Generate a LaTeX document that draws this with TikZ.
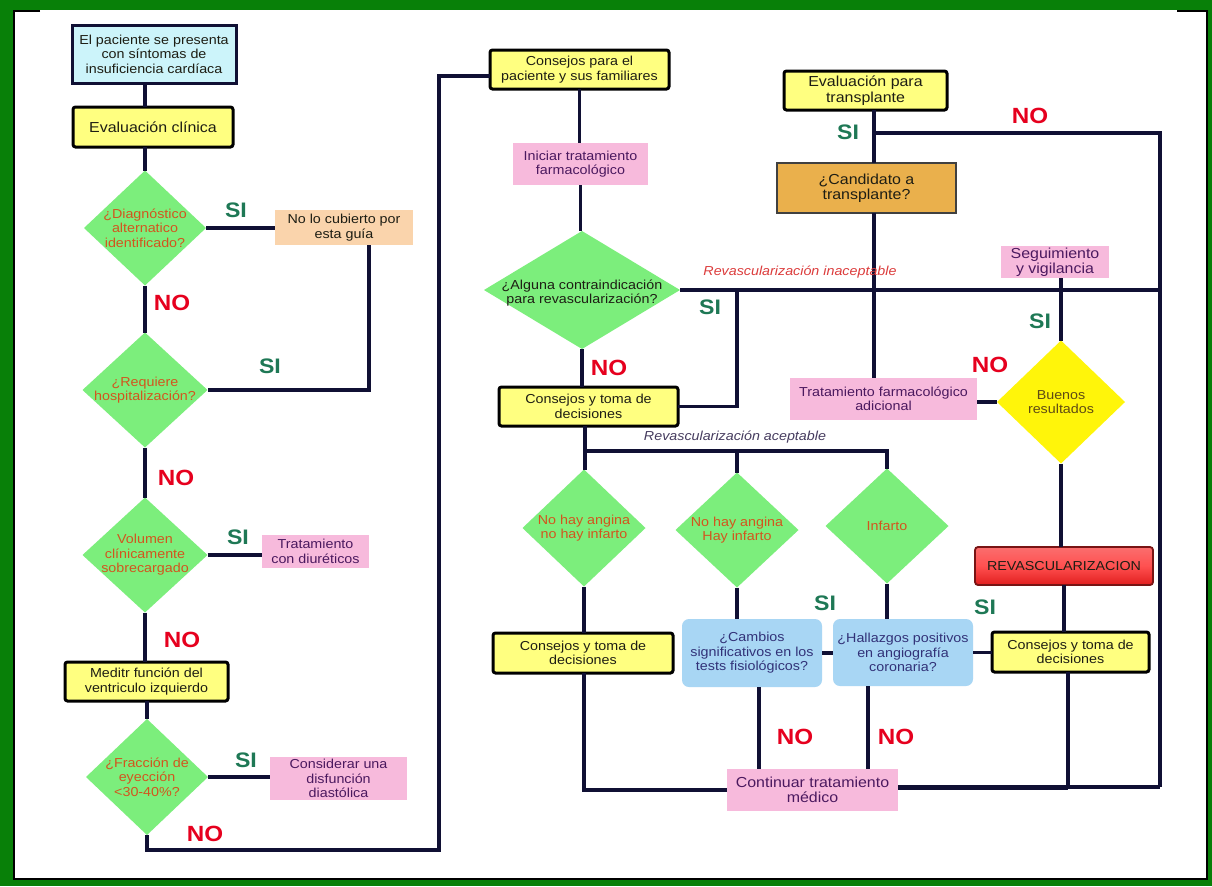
\documentclass[tikz,border=0pt]{standalone}
\usepackage{fontspec}
\setmainfont{Liberation Sans}[FakeStretch=1.1]
\usetikzlibrary{shapes.geometric}

\definecolor{framegreen}{RGB}{8,128,8}
\definecolor{wirec}{RGB}{16,16,52}
\definecolor{yfill}{RGB}{255,255,128}
\definecolor{cyanfill}{RGB}{204,244,250}
\definecolor{pinkfill}{RGB}{247,186,220}
\definecolor{peachfill}{RGB}{250,212,172}
\definecolor{orangefill}{RGB}{234,176,76}
\definecolor{greenfill}{RGB}{124,238,124}
\definecolor{ydiamfill}{RGB}{255,245,10}
\definecolor{bluefill}{RGB}{168,214,244}
\definecolor{rvtop}{RGB}{250,110,110}
\definecolor{rvmid}{RGB}{255,80,80}
\definecolor{rvbot}{RGB}{225,30,30}
\definecolor{rvedge}{RGB}{120,20,20}
\definecolor{darktext}{RGB}{30,30,20}
\definecolor{purpletext}{RGB}{75,25,95}
\definecolor{diamtext}{RGB}{210,85,30}
\definecolor{bluetext}{RGB}{50,50,120}
\definecolor{sigreen}{RGB}{30,120,85}
\definecolor{nored}{RGB}{230,0,30}
\definecolor{redlabel}{RGB}{220,60,60}
\definecolor{greylabel}{RGB}{70,60,95}

\begin{document}
\begin{tikzpicture}[x=1pt,y=-1pt,
  txt/.style={font=\fontsize{13}{14.5}\selectfont},
  bigtxt/.style={font=\fontsize{14.5}{15.5}\selectfont},
  base/.style={align=center, inner sep=0pt, outer sep=0pt},
  ybox/.style={base, txt, draw=black, line width=3pt, rounded corners=2.5pt, fill=yfill, text=darktext},
  cbox/.style={base, txt, draw=wirec, line width=3pt, fill=cyanfill, text=darktext},
  pbox/.style={base, txt, fill=pinkfill, text=purpletext},
  peachbox/.style={base, txt, fill=peachfill, text=darktext},
  obox/.style={base, bigtxt, draw=black!75, line width=1.8pt, fill=orangefill, text=darktext},
  bbox/.style={base, txt, fill=bluefill, rounded corners=7pt, text=bluetext},
  rbox/.style={base, txt, draw=rvedge, line width=1.8pt, rounded corners=3pt,
               top color=rvtop, bottom color=rvbot, middle color=rvmid, text=darktext},
  gdiam/.style={diamond, inner sep=0pt, outer sep=0pt, fill=greenfill},
  ydiam/.style={diamond, inner sep=0pt, outer sep=0pt, fill=ydiamfill},
  dtxt/.style={base, font=\fontsize{13}{14.5}\selectfont, text=diamtext},
  wire/.style={draw=wirec, line width=3.2pt},
  nolab/.style={font=\fontsize{22}{22}\bfseries, text=nored, inner sep=0pt},
  silab/.style={font=\fontsize{21}{21}\bfseries, text=sigreen, inner sep=0pt},
  pathlab/.style={font=\fontsize{13}{14}\itshape, inner sep=0pt}
]
\useasboundingbox (0,0) rectangle (1212,886);

% frame
\fill[framegreen] (0,0) rectangle (1212,886);
\fill[white] (14,10) rectangle (1207,879);
\draw[black, line width=1.2pt] (40,11) -- (14,11) -- (14,879) -- (1207,879) -- (1207,11) -- (1177,11);

% ---------- left column ----------
\node[cbox, minimum width=164, minimum height=58] (n1) at (154,54)
  {El paciente se presenta\\con síntomas de\\insuficiencia cardíaca};
\node[ybox, bigtxt, minimum width=160, minimum height=40] (n2) at (153,127) {Evaluación clínica};

\node[gdiam, minimum width=122, minimum height=115] (d1) at (145,228) {};
\node[dtxt] (d1t) at (d1) {¿Diagnóstico\\alternatico\\identificado?};
\node[peachbox, minimum width=138, minimum height=35] (nc) at (344,227.5) {No lo cubierto por\\esta guía};

\node[gdiam, minimum width=125, minimum height=115] (d2) at (145,390) {};
\node[dtxt] (d2t) at (d2) {¿Requiere\\hospitalización?};

\node[gdiam, minimum width=125, minimum height=115] (d3) at (145,555) {};
\node[dtxt] (d3t) at (d3) {Volumen\\clínicamente\\sobrecargado};
\node[pbox, minimum width=107, minimum height=33] (td) at (315.5,551.5) {Tratamiento\\con diuréticos};

\node[ybox, minimum width=163, minimum height=39] (n3) at (146.5,681.5) {Meditr función del\\ventriculo izquierdo};

\node[gdiam, minimum width=122, minimum height=116] (d4) at (147,777) {};
\node[dtxt] (d4t) at (d4) {¿Fracción de\\eyección\\<30-40\%?};
\node[pbox, minimum width=137, minimum height=43] (cd) at (338.5,778.5) {Considerar una\\disfunción\\diastólica};

% ---------- middle column ----------
\node[ybox, minimum width=179, minimum height=39] (cp) at (579.5,69.5) {Consejos para el\\paciente y sus familiares};
\node[pbox, minimum width=135, minimum height=42] (it) at (580.5,164) {Iniciar tratamiento\\farmacológico};
\node[gdiam, minimum width=196, minimum height=118] (da) at (582,290) {};
\node[dtxt, text=darktext] (dat) at (582,293) {¿Alguna contraindicación\\para revascularización?};
\node[ybox, minimum width=179, minimum height=39] (cm) at (588.5,406.5) {Consejos y toma de\\decisiones};

\node[gdiam, minimum width=123, minimum height=117] (g1) at (584,528) {};
\node[dtxt] (g1t) at (g1) {No hay angina\\no hay infarto};
\node[gdiam, minimum width=123, minimum height=115] (g2) at (737,530) {};
\node[dtxt] (g2t) at (g2) {No hay angina\\Hay infarto};
\node[gdiam, minimum width=123, minimum height=115] (g3) at (887,526) {};
\node[dtxt] (g3t) at (g3) {Infarto};

\node[ybox, minimum width=180, minimum height=40] (cl) at (583,653) {Consejos y toma de\\decisiones};
\node[bbox, minimum width=140, minimum height=68] (b1) at (752,653) {¿Cambios\\significativos en los\\tests fisiológicos?};
\node[bbox, minimum width=140, minimum height=67] (b2) at (903,652.5) {¿Hallazgos positivos\\en angiografía\\coronaria?};
\node[pbox, bigtxt, minimum width=171, minimum height=42] (ctm) at (812.5,790) {Continuar tratamiento\\médico};

% ---------- right column ----------
\node[ybox, bigtxt, minimum width=163, minimum height=39] (et) at (865.5,90.5) {Evaluación para\\transplante};
\node[obox, minimum width=179, minimum height=50] (ct) at (866.5,188) {¿Candidato a\\transplante?};
\node[pbox, bigtxt, minimum width=108, minimum height=32] (sv) at (1055,262) {Seguimiento\\y vigilancia};
\node[pbox, minimum width=187, minimum height=42] (tf) at (883.5,399) {Tratamiento farmacológico\\adicional};
\node[ydiam, minimum width=128, minimum height=123] (dy) at (1061,402) {};
\node[dtxt, text={rgb,255:red,95;green,75;blue,20}] (dyt) at (dy) {Buenos\\resultados};
\node[rbox, minimum width=178, minimum height=38] (rv) at (1064,566) {REVASCULARIZACION};
\node[ybox, minimum width=157, minimum height=40] (cr) at (1070.5,652) {Consejos y toma de\\decisiones};

% ---------- junction points ----------
\coordinate (jl) at (439,850);
\coordinate (jt) at (439,76);
\coordinate (rr) at (1160,290);
\coordinate (sj) at (737,290);
\coordinate (cx) at (874,0);
\coordinate (tr) at (1160,133);
\coordinate (br) at (1160,787);
\coordinate (bj) at (1068,787);
\coordinate (hb) at (585,451);

% ---------- connectors: left column ----------
\draw[wire] (n1.south -| d1.north) -- (n2.north -| d1.north);
\draw[wire] (n2.south -| d1.north) -- (d1.north);
\draw[wire] (d1.east) -- (d1.east -| nc.west);
\draw[wire] ([xshift=25pt]nc.south) |- (d2.east);
\draw[wire] (d1.south) -- (d2.north);
\draw[wire] (d2.south) -- (d3.north);
\draw[wire] (d3.east) -- (d3.east -| td.west);
\draw[wire] (d3.south) -- (n3.north -| d3.south);
\draw[wire] (n3.south -| d4.north) -- (d4.north);
\draw[wire] (d4.east) -- (d4.east -| cd.west);
\draw[wire] (d4.south) |- (jl) -- (jt) -- (jt -| cp.west);

% ---------- connectors: middle column ----------
\draw[wire] (cp.south) -- (cp.south |- it.north);
\draw[wire] (it.south) -- (it.south |- da.north);
\draw[wire] (da.south) -- (da.south |- cm.north);
\draw[wire] (da.east) -- (rr);
\draw[wire] (sj) |- (cm.east);
\draw[wire] (cm.south -| hb) -- (g1.north -| hb);
\draw[wire] (hb) -| (g3.north);
\draw[wire] (g2.north |- hb) -- (g2.north);
\draw[wire] (g1.south) -- (g1.south |- cl.north);
\draw[wire] (cl.south -| g1.south) |- (ctm.west);
\draw[wire] (g2.south) -- (g2.south |- b1.north);
\draw[wire] (b1.east) -- (b1.east -| b2.west);
\draw[wire] (g3.south) -- (g3.south |- b2.north);
\draw[wire] (b2.east) -- (b2.east -| cr.west);
\draw[wire] ([xshift=7pt]b1.south) -- ([xshift=7pt]b1.south |- ctm.north);
\draw[wire] ([xshift=-35pt]b2.south) -- ([xshift=-35pt]b2.south |- ctm.north);

% ---------- connectors: right column ----------
\draw[wire] (et.south -| cx) -- (ct.north -| cx);
\draw[wire] (cx |- tr) -- (tr) -- (br);
\draw[wire] (ct.south -| cx) -- (tf.north -| cx);
\draw[wire] (sv.south -| dy.north) -- (dy.north);
\draw[wire] (dy.west) -- (dy.west -| tf.east);
\draw[wire] (dy.south) -- (dy.south |- rv.north);
\draw[wire] (rv.south) -- (rv.south |- cr.north);
\draw[wire] (cr.south -| bj) -- (bj);
\draw[wire, line width=5pt] (ctm.east |- bj) -- (bj);
\draw[wire] (bj) -- (br);

% ---------- branch labels ----------
\node[silab] (s1) at (236,210) {SI};
\node[nolab] (o1) at (172,303) {NO};
\node[silab] (s2) at (270,366) {SI};
\node[nolab] (o2) at (176,478) {NO};
\node[silab] (s3) at (238,537) {SI};
\node[nolab] (o3) at (182,640) {NO};
\node[silab] (s4) at (246,760) {SI};
\node[nolab] (o4) at (205,834) {NO};
\node[nolab] (o5) at (609,368) {NO};
\node[silab] (s5) at (710,307) {SI};
\node[silab] (s6) at (848,132) {SI};
\node[nolab] (o6) at (1030,116) {NO};
\node[silab] (s7) at (1040,321) {SI};
\node[nolab] (o7) at (990,365) {NO};
\node[silab] (s8) at (825,603) {SI};
\node[silab] (s9) at (985,607) {SI};
\node[nolab] (o8) at (795,737) {NO};
\node[nolab] (o9) at (896,737) {NO};

\node[pathlab, text=redlabel] (pin) at (800,272) {Revascularización inaceptable};
\node[pathlab, text=greylabel] (pac) at (735,437) {Revascularización aceptable};
\end{tikzpicture}
\end{document}
